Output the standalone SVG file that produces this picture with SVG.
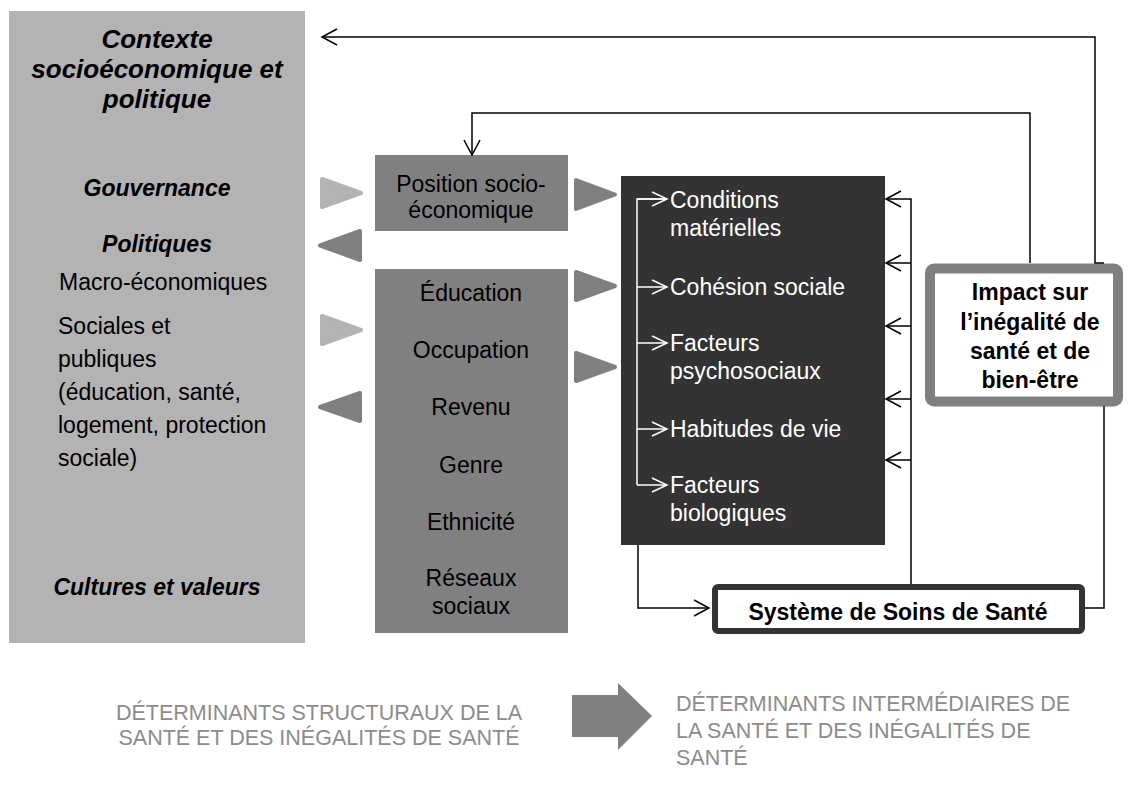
<svg xmlns="http://www.w3.org/2000/svg" width="1128" height="798" viewBox="0 0 1128 798">
<style>
.t{font-family:"Liberation Sans",Arial,Helvetica,sans-serif;font-size:23px;fill:#000}
.bi{font-weight:bold;font-style:italic}
.b{font-weight:bold}
.c{text-anchor:middle}
.w{fill:#fff}
.lab{fill:#8c8c8c;font-size:21.5px}
.ln{fill:none;stroke:#000;stroke-width:1.5}
.lw{fill:none;stroke:#fff;stroke-width:1.5}
.tl{fill:#b3b3b3;stroke:#b3b3b3;stroke-width:4;stroke-linejoin:round}
.td{fill:#808080;stroke:#808080;stroke-width:4;stroke-linejoin:round}
</style>
<defs>
<marker id="ab" markerUnits="userSpaceOnUse" viewBox="0 0 18 18" markerWidth="18" markerHeight="18" refX="16" refY="9" orient="auto">
<path d="M1,1 L16,9 L1,17" fill="none" stroke="#000" stroke-width="1.5"/>
</marker>
<marker id="aw" markerUnits="userSpaceOnUse" viewBox="0 0 18 18" markerWidth="18" markerHeight="18" refX="16" refY="9" orient="auto">
<path d="M1,2 L16,9 L1,16" fill="none" stroke="#fff" stroke-width="1.5"/>
</marker>
</defs>
<rect width="1128" height="798" fill="#fff"/>

<g id="contexte">
<rect x="9" y="11" width="296" height="632" fill="#b3b3b3"/>
<text class="t bi c" style="font-size:26px" x="157" y="48">Contexte</text>
<text class="t bi c" style="font-size:26px" x="157" y="78">socioéconomique et</text>
<text class="t bi c" style="font-size:26px" x="157" y="108">politique</text>
<text class="t bi c" x="157" y="196">Gouvernance</text>
<text class="t bi c" x="157" y="252">Politiques</text>
<text class="t" x="59" y="290">Macro-économiques</text>
<text class="t" x="58" y="334">Sociales et</text>
<text class="t" x="58" y="367">publiques</text>
<text class="t" x="58" y="400">(éducation, santé,</text>
<text class="t" x="58" y="433">logement, protection</text>
<text class="t" x="58" y="466">sociale)</text>
<text class="t bi c" x="157" y="595">Cultures et valeurs</text>
</g>

<g id="fleches-triangles">
<polygon class="tl" points="322,179 361,193 322,207"/>
<polygon class="td" points="360,231 320,245.5 360,260"/>
<polygon class="tl" points="322,316 361,330 322,344"/>
<polygon class="td" points="360,393 320,407 360,421"/>
<polygon class="td" points="576,180 615,194.5 576,209"/>
<polygon class="td" points="576,272 615,286 576,300"/>
<polygon class="td" points="576,353 615,367 576,381"/>
</g>

<g id="position">
<rect x="375" y="155" width="193" height="76" fill="#808080"/>
<text class="t c" x="471" y="192">Position socio-</text>
<text class="t c" x="471" y="218">économique</text>
</g>

<g id="stratification">
<rect x="375" y="269" width="193" height="364" fill="#808080"/>
<text class="t c" x="471" y="301">Éducation</text>
<text class="t c" x="471" y="358">Occupation</text>
<text class="t c" x="471" y="415">Revenu</text>
<text class="t c" x="471" y="473">Genre</text>
<text class="t c" x="471" y="530">Ethnicité</text>
<text class="t c" x="471" y="586">Réseaux</text>
<text class="t c" x="471" y="614">sociaux</text>
</g>

<g id="intermediaires">
<rect x="621" y="176" width="264" height="369" fill="#333"/>
<text class="t w" x="670" y="208">Conditions</text>
<text class="t w" x="670" y="236">matérielles</text>
<text class="t w" x="670" y="295">Cohésion sociale</text>
<text class="t w" x="670" y="351">Facteurs</text>
<text class="t w" x="670" y="379">psychosociaux</text>
<text class="t w" x="670" y="437">Habitudes de vie</text>
<text class="t w" x="670" y="493">Facteurs</text>
<text class="t w" x="670" y="521">biologiques</text>
</g>

<g id="impact">
<rect x="930" y="268.5" width="188" height="133" rx="4" fill="#fff" stroke="#808080" stroke-width="10"/>
<text class="t b c" x="1030" y="300">Impact sur</text>
<text class="t b c" x="1030" y="330">l’inégalité de</text>
<text class="t b c" x="1030" y="359">santé et de</text>
<text class="t b c" x="1030" y="388">bien-être</text>
</g>

<g id="systeme">
<rect x="715" y="587" width="367" height="44" rx="3" fill="#fff" stroke="#333" stroke-width="6"/>
<text class="t b c" x="898" y="620">Système de Soins de Santé</text>
</g>

<g id="connecteurs">
<path class="ln" d="M1104,263 H1095 V37 H322" marker-end="url(#ab)"/>
<path class="ln" d="M1030,263 V113 H472 V155" marker-end="url(#ab)"/>
<path class="ln" d="M1104,406 V608 H1085"/>
<path class="ln" d="M911,584 V199 H886" marker-end="url(#ab)"/>
<path class="ln" d="M911,263 H886" marker-end="url(#ab)"/>
<path class="ln" d="M911,326 H886" marker-end="url(#ab)"/>
<path class="ln" d="M911,399 H886" marker-end="url(#ab)"/>
<path class="ln" d="M911,460 H886" marker-end="url(#ab)"/>
<path class="ln" d="M638,545 V608 H709" marker-end="url(#ab)"/>
<path class="lw" d="M667,199 H637 V485"/>
<path class="lw" d="M637,199 H667" marker-end="url(#aw)"/>
<path class="lw" d="M637,287 H667" marker-end="url(#aw)"/>
<path class="lw" d="M637,343 H667" marker-end="url(#aw)"/>
<path class="lw" d="M637,429 H667" marker-end="url(#aw)"/>
<path class="lw" d="M637,485 H667" marker-end="url(#aw)"/>
</g>

<g id="legende">
<text class="t lab c" x="319" y="720">DÉTERMINANTS STRUCTURAUX DE LA</text>
<text class="t lab c" x="319" y="745">SANTÉ ET DES INÉGALITÉS DE SANTÉ</text>
<polygon points="572,695 618,695 618,683 652,716 618,750 618,737 572,737" fill="#808080"/>
<text class="t lab" x="676" y="711">DÉTERMINANTS INTERMÉDIAIRES DE</text>
<text class="t lab" x="676" y="738">LA SANTÉ ET DES INÉGALITÉS DE</text>
<text class="t lab" x="676" y="765">SANTÉ</text>
</g>
</svg>
